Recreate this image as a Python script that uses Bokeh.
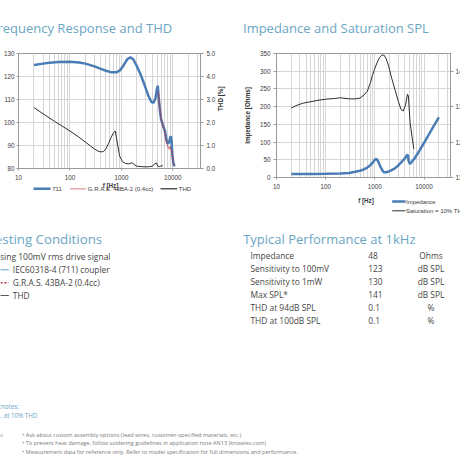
import numpy as np
from bokeh.plotting import figure
from bokeh.models import (Range1d, LinearAxis, FixedTicker, PrintfTickFormatter)
from bokeh.layouts import column, row
from bokeh.embed import file_html
from bokeh.resources import INLINE
from bokeh.core.properties import value

# ---------------- data ----------------
fr_freq = [20, 30, 40, 60, 100, 150, 200, 300, 400, 500, 650, 800, 950, 1100,
           1300, 1500, 1700, 2000, 2400, 2800, 3300, 3800, 4200, 4600, 4900,
           5100, 5300, 5600, 5900, 6400, 7000, 7500, 8000, 8500, 8900, 9200,
           9500, 9800, 10200, 10800]
fr_711 = [125.0, 125.6, 126.0, 126.3, 126.4, 126.1, 125.6, 124.4, 123.3, 122.5,
          121.8, 121.8, 122.8, 124.8, 127.5, 128.3, 127.5, 124.5, 120.5, 116.5,
          112.0, 109.0, 108.6, 110.5, 114.5, 116.0, 111.0, 105.5, 101.5, 99.0,
          96.5, 92.5, 90.8, 91.5, 93.5, 94.0, 91.0, 86.0, 82.5, 81.0]

gras_freq = [5200, 5400, 5700, 6000, 6400, 7000, 7500, 8000, 8400, 8800, 9200,
             9600, 10000, 10400]
gras_db = [113.5, 109.5, 104.5, 101.0, 98.5, 95.5, 91.5, 89.5, 88.5, 89.5,
           88.5, 87.0, 84.0, 81.0]

thd_freq = [20, 30, 50, 70, 100, 150, 200, 250, 300, 350, 400, 450, 500, 560,
            630, 700, 760, 830, 920, 1050, 1200, 1400, 1600, 1800, 2000, 2500,
            3000, 3500, 4000, 4400, 4800, 5100, 5500, 6000, 6400]
thd_pct = [2.65, 2.38, 2.05, 1.85, 1.63, 1.36, 1.15, 0.98, 0.85, 0.76, 0.72,
           0.74, 0.85, 1.08, 1.35, 1.55, 1.63, 1.15, 0.55, 0.30, 0.22, 0.20,
           0.25, 0.16, 0.10, 0.08, 0.07, 0.08, 0.10, 0.20, 0.24, 0.10, 0.08,
           0.12, 0.12]

imp_freq = [20, 50, 100, 200, 300, 400, 500, 600, 700, 800, 900, 1000, 1070,
            1150, 1300, 1500, 1700, 2000, 2500, 3000, 3500, 4000, 4500, 4650,
            4900, 5200, 6500, 8000, 10000, 13000, 16000, 20000]
imp_ohm = [10, 10, 10.5, 11.5, 13, 16, 19, 23, 28, 34, 42, 50, 53, 47, 30, 15,
           15, 18, 25, 34, 44, 53, 63, 64, 45, 38, 55, 75, 98, 125, 147, 170]

sat_freq = [20, 25, 35, 50, 70, 100, 150, 200, 300, 400, 500, 600, 700, 800,
            900, 1000, 1100, 1250, 1400, 1550, 1700, 1900, 2200, 2600, 3000,
            3400, 3800, 4200, 4600, 4800, 5200, 5700, 6200]
sat_db = [129.6, 130.3, 131.0, 131.4, 131.8, 132.1, 132.3, 132.5, 132.2, 132.2,
          132.4, 133.3, 134.3, 136.5, 139.0, 140.8, 142.3, 143.9, 144.6, 144.5,
          143.5, 141.5, 138.0, 134.5, 131.5, 129.2, 128.8, 130.5, 133.5, 133.0,
          125.5, 121.5, 118.0]

x_ticks = [10, 100, 1000, 10000]
x_minor = [m * 10 ** e for e in range(1, 5) for m in range(2, 10)]
fr_ticks = [80, 90, 100, 110, 120, 130]
thd_ticks = [0, 1, 2, 3, 4, 5]
imp_ticks = [0, 50, 100, 150, 200, 250, 300, 350]
sat_ticks = [110, 120, 130, 140]

legend1 = ["711", "G.R.A.S. 43BA-2 (0.4cc)", "THD"]
legend2 = ["Impedance", "Saturation = 10% THD"]

cond_intro = "Using 100mV rms drive signal"
cond_items = ["IEC60318-4 (711) coupler", "G.R.A.S. 43BA-2 (0.4cc)", "THD"]
perf_params = ["Impedance", "Sensitivity to 100mV", "Sensitivity to 1mW",
               "Max SPL*", "THD at 94dB SPL", "THD at 100dB SPL"]
perf_values = ["48", "123", "130", "141", "0.1", "0.1"]
perf_units = ["Ohms", "dB SPL", "dB SPL", "dB SPL", "%", "%"]
footnotes = ["Footnotes:", "* Max SPL, at 10% THD"]
notes_head = "Notes:"
notes = ["\u2022 Ask about custom assembly options (lead wires, customer-specified materials, etc.)",
         "\u2022 To prevent heat damage, follow soldering guidelines in application note AN13 (knowles.com)",
         "\u2022 Measurement data for reference only. Refer to model specification for full dimensions and performance."]

# ---------------- styles ----------------
BLUE = "#4a7db5"
RED = "#b83040"
DARK = "#2e2e2e"
GRID = "#d6d6d6"
AX = "#9a9a9a"
TITLE = "#6aa6c4"
TXT = "#454545"
CFONT = "Liberation Sans"
BFONT = "Open Sans"
XMAX = 34500
cf = value(CFONT)
bf = value(BFONT)


def style_axis(ax):
    ax.axis_line_color = AX
    ax.major_tick_line_color = AX
    ax.major_tick_out = 2
    ax.major_tick_in = 0
    ax.minor_tick_line_color = None
    ax.major_label_text_font = CFONT
    ax.major_label_text_font_size = "6.3px"
    ax.major_label_text_color = "#3c3c3c"
    ax.major_label_standoff = 2
    ax.axis_label_text_font = CFONT
    ax.axis_label_text_font_size = "6.3px"
    ax.axis_label_text_font_style = "bold"
    ax.axis_label_text_color = "#333333"


def text_fig(width, height, x0, y0):
    """Blank figure whose data coordinates equal page pixels."""
    p = figure(width=width, height=height, x_range=Range1d(x0, x0 + width),
               y_range=Range1d(y0 + height, y0), output_backend="svg",
               toolbar_location=None, x_axis_location=None,
               y_axis_location=None, min_border=0, outline_line_color=None,
               background_fill_color="white", border_fill_color="white",
               frame_align=False)
    p.xgrid.visible = False
    p.ygrid.visible = False
    return p


def chart(width, height, ylo, yhi, ml, mr, mt, mb):
    p = figure(width=width, height=height, x_axis_type="log",
               x_range=Range1d(10, XMAX), y_range=Range1d(ylo, yhi),
               output_backend="svg", toolbar_location=None,
               min_border_left=ml, min_border_right=mr,
               min_border_top=mt, min_border_bottom=mb,
               background_fill_color="white", border_fill_color="white",
               outline_line_color=AX, frame_align=False)
    tk = FixedTicker(ticks=x_ticks, minor_ticks=x_minor)
    p.xaxis.ticker = tk
    p.xgrid.ticker = tk
    p.xaxis.formatter = PrintfTickFormatter(format="%d")
    p.xgrid.grid_line_color = GRID
    p.xgrid.minor_grid_line_color = GRID
    p.ygrid.grid_line_color = GRID
    for ax in p.axis:
        style_axis(ax)
    return p


def swatch(p, x0, x1, y, color, width, dash="solid"):
    p.line(x=[x0, x1], y=[y, y], line_color=color, line_width=width,
           line_dash=dash)


def small(p, x, y, txt, align="left", size="6px", style="normal"):
    p.text(x=[x], y=[y], text=[txt], text_font=cf, text_font_size=size,
           text_color="#3c3c3c", text_align=align, text_baseline="middle",
           text_font_style=style)


# ---------------- left column (frequency response) ----------------
t1 = text_fig(230, 45, 0, 0)
t1.text(x=[171.7], y=[27.5], text=["Frequency Response and THD"], text_font=bf,
        text_font_size="13px", text_color=TITLE, text_align="right",
        text_baseline="alphabetic")

p1 = chart(230, 137, 80, 130, 18, 27, 8, 13)
ytk1 = FixedTicker(ticks=fr_ticks)
p1.yaxis.ticker = ytk1
p1.ygrid.ticker = ytk1
p1.extra_y_ranges = {"thd": Range1d(0, 5)}
ax_thd = LinearAxis(y_range_name="thd", ticker=FixedTicker(ticks=thd_ticks),
                    formatter=PrintfTickFormatter(format="%.1f"))
style_axis(ax_thd)
ax_thd.major_tick_out = 3
ax_thd.major_label_standoff = 3
ax_thd.axis_label = "THD [%]"
ax_thd.axis_label_standoff = 2
ax_thd.axis_label_orientation = np.pi / 2
p1.add_layout(ax_thd, "right")

p1.line(thd_freq, thd_pct, y_range_name="thd", line_color=DARK, line_width=1)
p1.line(fr_freq, fr_711, line_color=BLUE, line_width=2.5)
p1.line(gras_freq, gras_db, line_color=RED, line_width=1.4, line_dash="1 1")

l1 = text_fig(230, 38, 0, 182)
small(l1, 110, 185, "f [Hz]", align="center", size="6.3px", style="bold")
swatch(l1, 33, 50, 188.3, BLUE, 2.5)
small(l1, 51.7, 188.6, legend1[0])
swatch(l1, 70, 85, 188.3, RED, 1.3, "1 1")
small(l1, 87.3, 188.6, legend1[1])
swatch(l1, 160, 176.7, 188.3, "#555555", 1.5)
small(l1, 178.3, 188.6, legend1[2])

# ---------------- right column (impedance) ----------------
t2 = text_fig(240, 45, 230, 0)
t2.text(x=[242.5], y=[27.5], text=["Impedance and Saturation SPL"], text_font=bf,
        text_font_size="13px", text_color=TITLE, text_align="left",
        text_baseline="alphabetic")

p2 = chart(240, 146, 0, 350, 46, 20, 8, 13)
ytk2 = FixedTicker(ticks=imp_ticks)
p2.yaxis.ticker = ytk2
p2.ygrid.ticker = ytk2
p2.yaxis.formatter = PrintfTickFormatter(format="%d")
p2.yaxis.axis_label = "Impedance [Ohms]"
p2.yaxis.axis_label_standoff = 6
p2.yaxis.major_tick_out = 3
p2.yaxis.major_label_standoff = 3
p2.extra_y_ranges = {"spl": Range1d(110, 145)}
ax_spl = LinearAxis(y_range_name="spl", ticker=FixedTicker(ticks=sat_ticks),
                    formatter=PrintfTickFormatter(format="%d"))
style_axis(ax_spl)
ax_spl.major_tick_out = 3
ax_spl.major_label_standoff = 2
p2.add_layout(ax_spl, "right")

p2.line(sat_freq, sat_db, y_range_name="spl", line_color=DARK, line_width=1)
p2.line(imp_freq, imp_ohm, line_color=BLUE, line_width=2.5)

l2 = text_fig(240, 29, 230, 191)
small(l2, 365.5, 199.5, "f [Hz]", align="center", size="6.3px", style="bold")
swatch(l2, 391.7, 405, 201, BLUE, 2.5)
small(l2, 405.5, 201.5, legend2[0])
swatch(l2, 391.7, 405, 210.3, DARK, 1)
small(l2, 405.5, 210.5, legend2[1])

# ---------------- lower page ----------------
p3 = text_fig(460, 240, 0, 220)

p3.text(x=[101.7], y=[238.3], text=["Testing Conditions"], text_font=bf,
        text_font_size="13.3px", text_color=TITLE, text_align="right",
        text_baseline="alphabetic")
p3.text(x=[242.7], y=[238.3], text=["Typical Performance at 1kHz"], text_font=bf,
        text_font_size="13px", text_color=TITLE, text_align="left",
        text_baseline="alphabetic")

p3.text(x=[110], y=[256], text=[cond_intro], text_font=bf,
        text_font_size="8.5px", text_color=TXT, text_align="right",
        text_baseline="middle")
cond_y = [269.3, 282.3, 295.0]
p3.text(x=[12.3] * 3, y=cond_y, text=cond_items, text_font=bf,
        text_font_size="8.4px", text_color=TXT, text_align="left",
        text_baseline="middle")
swatch(p3, -8, 8.3, cond_y[0], TITLE, 1)
swatch(p3, -8, 8.3, cond_y[1], RED, 1.6, "2 2")
swatch(p3, -8, 8.3, cond_y[2], "#555555", 1)

row_y = [254.5 + 13 * i for i in range(len(perf_params))]
p3.text(x=[250] * 6, y=row_y, text=perf_params, text_font=bf,
        text_font_size="8.4px", text_color=TXT, text_align="left",
        text_baseline="middle")
p3.text(x=[367.7] * 6, y=row_y, text=perf_values, text_font=bf,
        text_font_size="8.4px", text_color=TXT, text_align="left",
        text_baseline="middle")
p3.text(x=[430.5] * 6, y=row_y, text=perf_units, text_font=bf,
        text_font_size="8.4px", text_color=TXT, text_align="center",
        text_baseline="middle")

p3.text(x=[18.3, 36.7], y=[406, 415], text=footnotes, text_font=bf,
        text_font_size="6.2px", text_color=TITLE, text_align="right",
        text_baseline="middle")
p3.text(x=[2.7], y=[434], text=[notes_head], text_font=bf,
        text_font_size="5.8px", text_color="#7a7a7a", text_align="right",
        text_baseline="middle")
p3.text(x=[21.7] * 3, y=[434, 442.8, 451.7], text=notes, text_font=bf,
        text_font_size="5.6px", text_color="#7a7a7a", text_align="left",
        text_baseline="middle")

layout = column(row(column(t1, p1, l1), column(t2, p2, l2)), p3)
open("out.html", "w").write(file_html(layout, INLINE))
